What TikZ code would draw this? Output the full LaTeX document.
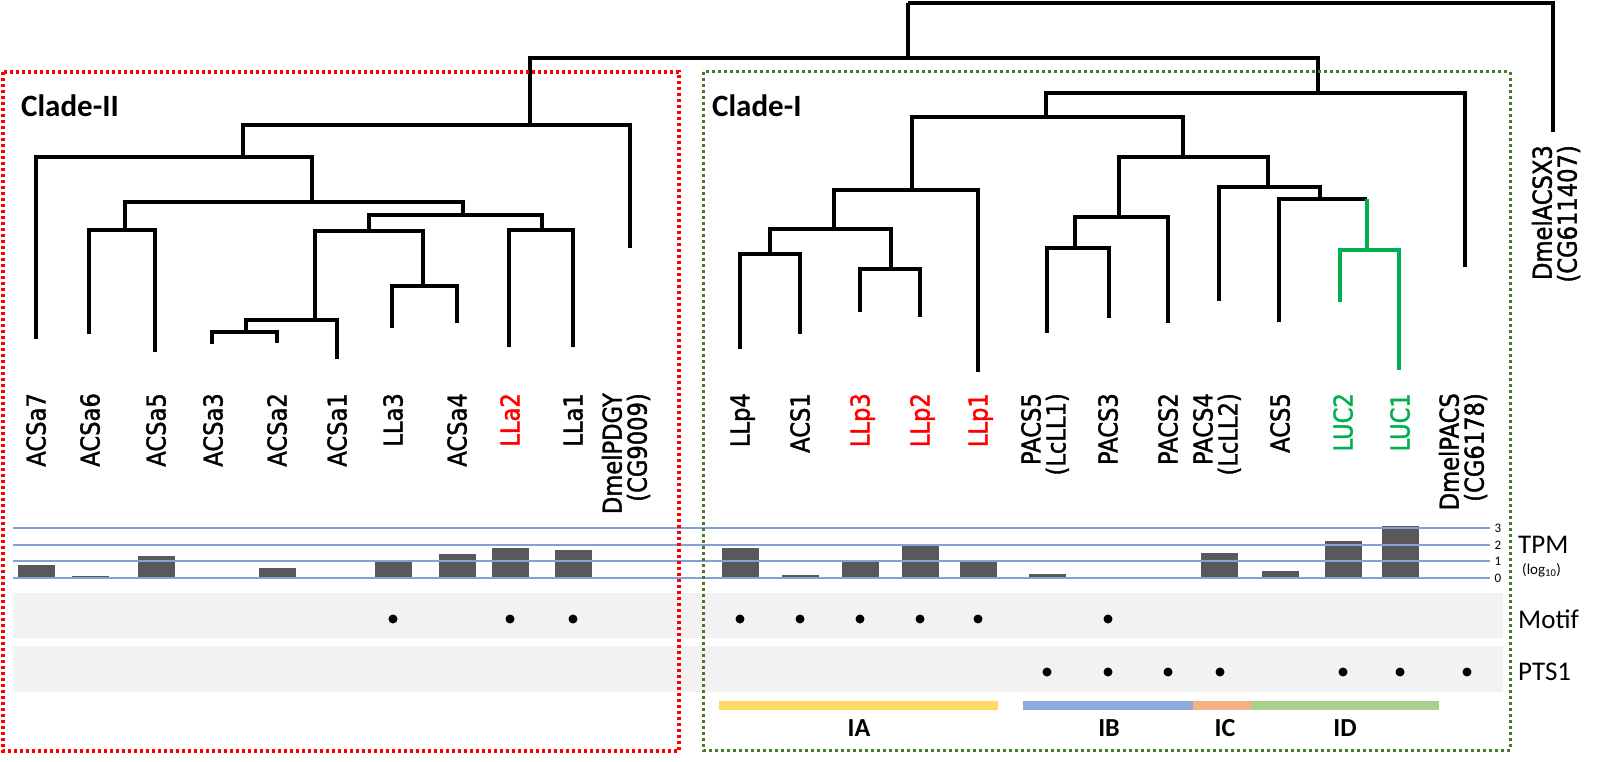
\documentclass[tikz,border=0pt]{standalone}
\usepackage{fontspec}
\setmainfont{Carlito}
\newfontfamily\leaffont[FakeStretch=0.87, FakeBold=1.5]{DejaVu Sans}
\usetikzlibrary{calc}
\definecolor{lucgreen}{RGB}{0,176,80}
\definecolor{boxgreen}{RGB}{74,122,40}
\definecolor{tpmblue}{RGB}{132,160,214}
\definecolor{bargray}{RGB}{89,89,89}
\definecolor{bandgray}{RGB}{242,242,242}
\definecolor{subia}{RGB}{255,217,102}
\definecolor{subib}{RGB}{142,169,219}
\definecolor{subic}{RGB}{244,177,131}
\definecolor{subid}{RGB}{169,209,142}
\tikzset{
	branch/.style={line width=3.2pt},
	lucbranch/.style={line width=3.2pt, color=lucgreen},
	leaflab/.style={rotate=90, anchor=east, inner sep=0pt, text height=19pt, text depth=0pt, font=\leaffont\fontsize{26}{25}\selectfont},
	leaflabtwo/.style={rotate=90, anchor=east, inner sep=0pt, align=right, font=\leaffont\fontsize{26}{25}\selectfont},
	cladelab/.style={anchor=base west, inner sep=0pt, font=\bfseries\fontsize{31}{36}\selectfont},
	rowlab/.style={anchor=base west, inner sep=0pt, font=\fontsize{27}{30}\selectfont},
	ticklab/.style={inner sep=0pt, font=\fontsize{13}{14}\selectfont},
	sublab/.style={inner sep=0pt, font=\bfseries\fontsize{26}{30}\selectfont},
	tpmline/.style={line width=2pt, color=tpmblue},
}
\def\tpmbar(#1:#2){\fill[bargray] ({#1-18.5},578) rectangle ({#1+18.5},{578-16.7*#2});}
\def\dotmark(#1:#2){\fill (#1,#2) circle (4.5pt);}

\begin{document}
\begin{tikzpicture}[x=1pt, y=-1pt]
			%%%%% START %%%%%
			\useasboundingbox (0,0) rectangle (1600,762);
			
			\fill[bandgray] (13,593) rectangle (1503,638);
			\fill[bandgray] (13,646) rectangle (1503,692);
			
			\coordinate (R) at (908,3);
			\coordinate (A) at (908,58);
			\coordinate (C2) at (530,125);
			\coordinate (C1) at (1318,93);
			\coordinate (DmelACSX3) at (1553,132);
			
			\coordinate (n2a) at (243,157);
			\coordinate (n2b) at (312,202);
			\coordinate (n2c) at (125,230);
			\coordinate (n2d) at (463,215);
			\coordinate (n2e) at (369,231);
			\coordinate (n2f) at (315,320);
			\coordinate (n2g) at (246,332);
			\coordinate (n2h) at (423,286);
			\coordinate (n2i) at (542,230);
			
			\coordinate (ACSa7) at (36,339);
			\coordinate (ACSa6) at (89,334);
			\coordinate (ACSa5) at (155,352);
			\coordinate (ACSa3) at (212,344);
			\coordinate (ACSa2) at (277,343);
			\coordinate (ACSa1) at (337,359);
			\coordinate (LLa3) at (392,328);
			\coordinate (ACSa4) at (457,323);
			\coordinate (LLa2) at (509,347);
			\coordinate (LLa1) at (573,347);
			\coordinate (DmelPDGY) at (630,248);
			
			\coordinate (n1a) at (1046,117);
			\coordinate (n1b) at (912,190);
			\coordinate (n1c) at (834,229);
			\coordinate (n1d) at (770,254);
			\coordinate (n1e) at (891,269);
			\coordinate (n1f) at (1183,157);
			\coordinate (n1g) at (1119,217);
			\coordinate (n1h) at (1075,248);
			\coordinate (n1i) at (1268,187);
			\coordinate (n1j) at (1320,199);
			\coordinate (n1k) at (1367,250);
			
			\coordinate (LLp4) at (740,349);
			\coordinate (ACS1) at (800,334);
			\coordinate (LLp3) at (860,312);
			\coordinate (LLp2) at (920,317);
			\coordinate (LLp1) at (978,372);
			\coordinate (PACS5) at (1047,333);
			\coordinate (PACS3) at (1109,318);
			\coordinate (PACS2) at (1168,323);
			\coordinate (PACS4) at (1219,301);
			\coordinate (ACS5) at (1279,322);
			\coordinate (LUC2) at (1340,302);
			\coordinate (LUC1) at (1399,370);
			\coordinate (DmelPACS) at (1465,267);
			
			\draw[branch] (R) -- (A);
			\draw[branch] (R) -| (DmelACSX3);
			\draw[branch] (A) -| (C2);
			\draw[branch] (A) -| (C1);
			
			\draw[branch] (C2) -| (n2a);
			\draw[branch] (C2) -| (DmelPDGY);
			\draw[branch] (n2a) -| (ACSa7);
			\draw[branch] (n2a) -| (n2b);
			\draw[branch] (n2b) -| (n2c);
			\draw[branch] (n2b) -| (n2d);
			\draw[branch] (n2c) -| (ACSa6);
			\draw[branch] (n2c) -| (ACSa5);
			\draw[branch] (n2d) -| (n2e);
			\draw[branch] (n2d) -| (n2i);
			\draw[branch] (n2e) -| (n2f);
			\draw[branch] (n2e) -| (n2h);
			\draw[branch] (n2f) -| (n2g);
			\draw[branch] (n2f) -| (ACSa1);
			\draw[branch] (n2g) -| (ACSa3);
			\draw[branch] (n2g) -| (ACSa2);
			\draw[branch] (n2h) -| (LLa3);
			\draw[branch] (n2h) -| (ACSa4);
			\draw[branch] (n2i) -| (LLa2);
			\draw[branch] (n2i) -| (LLa1);
			
			\draw[branch] (C1) -| (n1a);
			\draw[branch] (C1) -| (DmelPACS);
			\draw[branch] (n1a) -| (n1b);
			\draw[branch] (n1a) -| (n1f);
			\draw[branch] (n1b) -| (n1c);
			\draw[branch] (n1b) -| (LLp1);
			\draw[branch] (n1c) -| (n1d);
			\draw[branch] (n1c) -| (n1e);
			\draw[branch] (n1d) -| (LLp4);
			\draw[branch] (n1d) -| (ACS1);
			\draw[branch] (n1e) -| (LLp3);
			\draw[branch] (n1e) -| (LLp2);
			\draw[branch] (n1f) -| (n1g);
			\draw[branch] (n1f) -| (n1i);
			\draw[branch] (n1g) -| (n1h);
			\draw[branch] (n1g) -| (PACS2);
			\draw[branch] (n1h) -| (PACS5);
			\draw[branch] (n1h) -| (PACS3);
			\draw[branch] (n1i) -| (PACS4);
			\draw[branch] (n1i) -| (n1j);
			\draw[branch] (n1j) -| (ACS5);
			\draw[branch] (n1j) -- (n1j -| n1k);
			\draw[lucbranch] (n1j -| n1k) -- (n1k);
			\draw[lucbranch] (n1k) -| (LUC2);
			\draw[lucbranch] (n1k) -| (LUC1);
			
			\node[cladelab] (clade2) at (21,117) {Clade-II};
			\node[cladelab] (clade1) at (712,117) {Clade-I};
			
			\node[leaflab] (ACSa7-lab) at (36,393) {ACSa7};
			\node[leaflab] (ACSa6-lab) at (90,393) {ACSa6};
			\node[leaflab] (ACSa5-lab) at (156,393) {ACSa5};
			\node[leaflab] (ACSa3-lab) at (213,393) {ACSa3};
			\node[leaflab] (ACSa2-lab) at (277,393) {ACSa2};
			\node[leaflab] (ACSa1-lab) at (337,393) {ACSa1};
			\node[leaflab] (LLa3-lab) at (393,393) {LLa3};
			\node[leaflab] (ACSa4-lab) at (457,393) {ACSa4};
			\node[leaflab, text=red] (LLa2-lab) at (510,393) {LLa2};
			\node[leaflab] (LLa1-lab) at (573,393) {LLa1};
			\node[leaflabtwo] (DmelPDGY-lab) at (626,393) {DmelPDGY\\(CG9009)};
			
			\node[leaflab] (LLp4-lab) at (740,393) {LLp4};
			\node[leaflab] (ACS1-lab) at (800,393) {ACS1};
			\node[leaflab, text=red] (LLp3-lab) at (860,393) {LLp3};
			\node[leaflab, text=red] (LLp2-lab) at (920,393) {LLp2};
			\node[leaflab, text=red] (LLp1-lab) at (978,393) {LLp1};
			\node[leaflabtwo] (PACS5-lab) at (1045,393) {PACS5\\(LcLL1)};
			\node[leaflab] (PACS3-lab) at (1108,393) {PACS3};
			\node[leaflab] (PACS2-lab) at (1168,393) {PACS2};
			\node[leaflabtwo] (PACS4-lab) at (1217,393) {PACS4\\(LcLL2)};
			\node[leaflab] (ACS5-lab) at (1280,393) {ACS5};
			\node[leaflab, text=lucgreen] (LUC2-lab) at (1343,393) {LUC2};
			\node[leaflab, text=lucgreen] (LUC1-lab) at (1400,393) {LUC1};
			\node[leaflabtwo] (DmelPACS-lab) at (1463,393) {DmelPACS\\(CG6178)};
			\node[leaflabtwo] (DmelACSX3-lab) at (1556,145) {DmelACSX3\\(CG611407)};
			
			\tpmbar(36:0.78)
			\tpmbar(90:0.12)
			\tpmbar(156:1.32)
			\tpmbar(277:0.6)
			\tpmbar(393:1.0)
			\tpmbar(457:1.44)
			\tpmbar(510:1.8)
			\tpmbar(573:1.68)
			\tpmbar(740:1.8)
			\tpmbar(800:0.18)
			\tpmbar(860:1.0)
			\tpmbar(920:1.92)
			\tpmbar(978:1.0)
			\tpmbar(1047:0.24)
			\tpmbar(1219:1.5)
			\tpmbar(1280:0.42)
			\tpmbar(1343:2.22)
			\tpmbar(1400:3.1)
			
			\draw[tpmline] (13,528) -- (1490,528);
			\draw[tpmline] (13,545) -- (1490,545);
			\draw[tpmline] (13,561) -- (1490,561);
			\draw[tpmline] (13,578) -- (1490,578);
			
			\node[ticklab] (tick3) at (1498,528) {3};
			\node[ticklab] (tick2) at (1498,545) {2};
			\node[ticklab] (tick1) at (1498,561) {1};
			\node[ticklab] (tick0) at (1498,578) {0};
			
			\node[rowlab] (TPM) at (1518,553) {TPM};
			\node[anchor=base west, inner sep=0pt, font=\fontsize{15}{16}\selectfont] (TPM-unit) at (1522,574) {(log\textsubscript{10})};
			\node[rowlab] (Motif) at (1518,628) {Motif};
			\node[rowlab] (PTS1) at (1518,680) {PTS1};
			
			\dotmark(393:619)
			\dotmark(510:619)
			\dotmark(573:619)
			\dotmark(740:619)
			\dotmark(800:619)
			\dotmark(860:619)
			\dotmark(920:619)
			\dotmark(978:619)
			\dotmark(1108:619)
			
			\dotmark(1047:672)
			\dotmark(1108:672)
			\dotmark(1168:672)
			\dotmark(1220:672)
			\dotmark(1343:672)
			\dotmark(1400:672)
			\dotmark(1467:672)
			
			\fill[subia] (719,700.5) rectangle (998,709.5);
			\fill[subib] (1023,700.5) rectangle (1193,709.5);
			\fill[subic] (1193,700.5) rectangle (1251,709.5);
			\fill[subid] (1251,700.5) rectangle (1439,709.5);
			
			\node[sublab] (IA) at (859,728) {IA};
			\node[sublab] (IB) at (1109,728) {IB};
			\node[sublab] (IC) at (1225,728) {IC};
			\node[sublab] (ID) at (1345,728) {ID};
			
			\draw[red, line width=3.5pt, dash pattern=on 3pt off 3pt] (3,72) rectangle (679,751);
			\draw[boxgreen, line width=3pt, dash pattern=on 3pt off 3pt] (703,72) rectangle (1510,750);
			
			%%%%% END %%%%%
		\end{tikzpicture}
\end{document}
